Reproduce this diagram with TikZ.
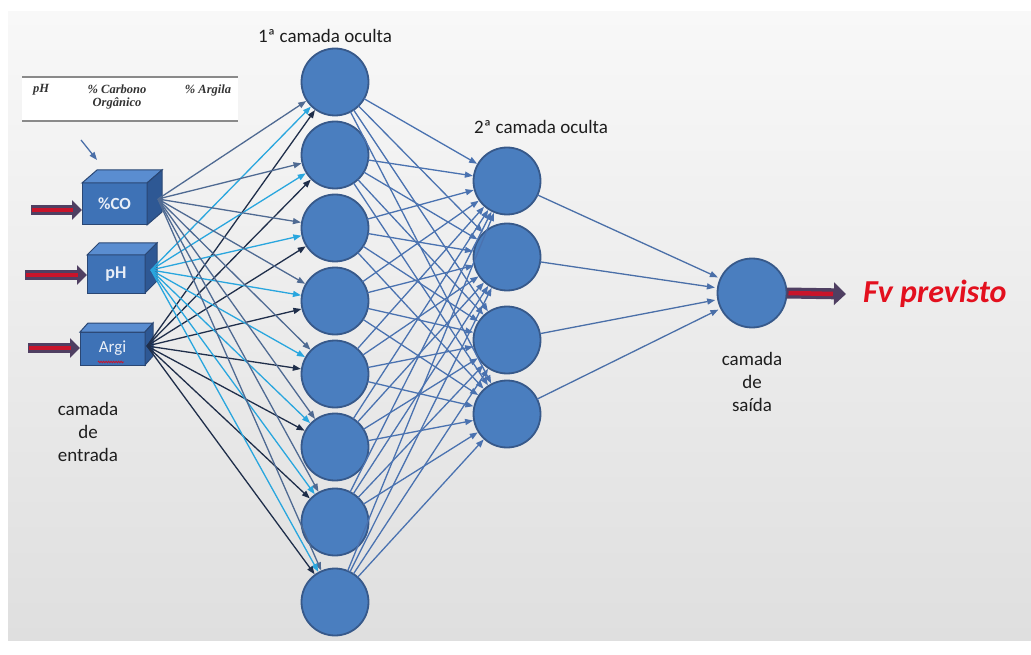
\documentclass[tikz,border=0pt]{standalone}
\usepackage{fontspec}
\setmainfont{Carlito}
\newfontfamily\tabfont{Liberation Serif}
\usetikzlibrary{arrows.meta,decorations.pathmorphing}
\definecolor{bgtop}{HTML}{F8F8F8}
\definecolor{bgbot}{HTML}{DFDFDF}
\definecolor{nfill}{HTML}{4A7EBF}
\definecolor{nline}{HTML}{37598A}
\definecolor{boxfront}{HTML}{3E72B6}
\definecolor{boxtop}{HTML}{5A8DD0}
\definecolor{boxside}{HTML}{2E5894}
\definecolor{boxline}{HTML}{2A4774}
\definecolor{boxtext}{HTML}{E8EEF7}
\definecolor{cCO}{HTML}{4F6A92}
\definecolor{cPH}{HTML}{29A6DE}
\definecolor{cAR}{HTML}{1F2E4A}
\definecolor{cHid}{HTML}{4A72B0}
\definecolor{cOut}{HTML}{4A6FA8}
\definecolor{arrdark}{HTML}{4F3F62}
\definecolor{arrred}{HTML}{C8142B}
\definecolor{fvred}{HTML}{E3101E}
\definecolor{labelc}{HTML}{1E1E1E}
\definecolor{tabline}{HTML}{8A8A8A}
\begin{document}
\begin{tikzpicture}[x=1pt,y=-1pt,
  neuron/.style={circle,minimum size=67pt,inner sep=0pt,outer sep=0pt,fill=nfill,draw=nline,line width=1.8pt},
  front/.style={rectangle,inner sep=0pt,outer sep=0pt,fill=boxfront,draw=boxline,line width=1pt,text=boxtext},
  lbl/.style={font=\fontsize{19}{23}\selectfont,text=labelc,align=center,inner sep=0pt},
  conn/.style={line width=1.3pt,-{Triangle[length=8pt,width=6pt]},shorten >=1pt},
  bigarrow/.style={line width=10pt,draw=arrdark,-{Triangle[length=10pt,width=19pt]}},
  redcore/.style={line width=3.5pt,draw=arrred},
  tabtxt/.style={font=\tabfont\bfseries\itshape\fontsize{12.5}{13.5}\selectfont,text=black!80,align=center,inner sep=0pt}
]
\useasboundingbox (0,0) rectangle (1031,655);
\fill[white] (0,0) rectangle (1031,655);
\shade[top color=bgtop,bottom color=bgbot] (8,12) rectangle (1031,640);

% table
\fill[white] (22,77) rectangle (238,121);
\draw[tabline,line width=1.8pt] (22,77) -- (238,77);
\draw[tabline,line width=1.8pt] (22,121) -- (238,121);
\node[tabtxt] (tpH) at (41,90) {pH};
\node[tabtxt] (tCO) at (117,97) {\% Carbono\\Orgânico};
\node[tabtxt] (tAR) at (208,90) {\% Argila};
\coordinate (tA) at (81,140);
\coordinate (tB) at (97,160);
\draw[cOut,line width=1.3pt,-{Triangle[length=8pt,width=6pt]}] (tA) -- (tB);

% input boxes
\node[front,minimum width=65pt,minimum height=42pt,font=\bfseries\fontsize{17}{17}\selectfont] (co) at (114.5,204) {\%CO};
\fill[boxtop,draw=boxline,line width=1pt] (co.north west) -- ++(15,-13) -- ++(65,0) -- (co.north east) -- cycle;
\fill[boxside,draw=boxline,line width=1pt] (co.north east) -- ++(15,-13) -- ++(0,42) -- (co.south east) -- cycle;

\node[front,minimum width=58pt,minimum height=38pt,font=\bfseries\fontsize{18}{18}\selectfont] (ph) at (116,274) {pH};
\fill[boxtop,draw=boxline,line width=1pt] (ph.north west) -- ++(12,-12) -- ++(58,0) -- (ph.north east) -- cycle;
\fill[boxside,draw=boxline,line width=1pt] (ph.north east) -- ++(12,-12) -- ++(0,38) -- (ph.south east) -- cycle;

\node[front,minimum width=65pt,minimum height=33pt,font=\fontsize{17}{17}\selectfont] (ar) at (112.5,348.5) {Argi};
\fill[boxtop,draw=boxline,line width=1pt] (ar.north west) -- ++(8,-9) -- ++(65,0) -- (ar.north east) -- cycle;
\fill[boxside,draw=boxline,line width=1pt] (ar.north east) -- ++(8,-9) -- ++(0,33) -- (ar.south east) -- cycle;
\draw[arrred,line width=0.8pt,decorate,decoration={zigzag,amplitude=0.8pt,segment length=2.5pt}] (98,362) -- (124,362);

% input arrows
\coordinate (coA) at (31,210);
\coordinate (phA) at (25,275);
\coordinate (arA) at (28,348);
\foreach \a/\b in {coA/co,phA/ph,arA/ar}{
  \draw[bigarrow] (\a) -- (\a -| \b.west);
  \draw[redcore] ([xshift=1pt]\a) -- ([xshift=-9pt]\a -| \b.west);
}

% hidden layer 1
\foreach \y [count=\i] in {82,155,228,301,374,447,522,602}
  \node[neuron] (h\i) at (335,\y) {};
% hidden layer 2
\foreach \y [count=\i] in {181,257,340,414}
  \node[neuron] (g\i) at (507,\y) {};
% output
\node[neuron,minimum size=69pt] (out) at (752,293) {};

% connector sources
\coordinate (coS) at (158,199);
\coordinate (phS) at (151,270);
\coordinate (arS) at (147,346);

\foreach \i in {1,...,8}{
  \draw[conn,cCO] (coS) -- (h\i);
  \draw[conn,cPH] (phS) -- (h\i);
  \draw[conn,cAR] (arS) -- (h\i);
}
\foreach \i in {1,...,8}{
  \foreach \j in {1,...,4}{
    \draw[conn,cHid] (h\i) -- (g\j);
  }
}
\foreach \j in {1,...,4}{
  \draw[conn,cOut,shorten >=3pt] (g\j) -- (out);
}

% output arrow
\coordinate (fvA) at (846,294);
\draw[line width=11pt,draw=arrdark,-{Triangle[length=12pt,width=22pt]}] (out.east) -- (fvA);
\draw[redcore,line width=4.5pt] ([xshift=2pt]out.east) -- ([xshift=-13pt]fvA);
\node[anchor=west,inner sep=0pt,text=fvred,font=\bfseries\itshape\fontsize{32}{32}\selectfont] (fv) at (863,294) {Fv previsto};

% labels
\node[lbl] (l1) at (325,36) {1ª camada oculta};
\node[lbl] (l2) at (541,127) {2ª camada oculta};
\node[lbl] (lin) at (88,432) {camada\\de\\entrada};
\node[lbl] (lout) at (752,382) {camada\\de\\saída};
\end{tikzpicture}
\end{document}
